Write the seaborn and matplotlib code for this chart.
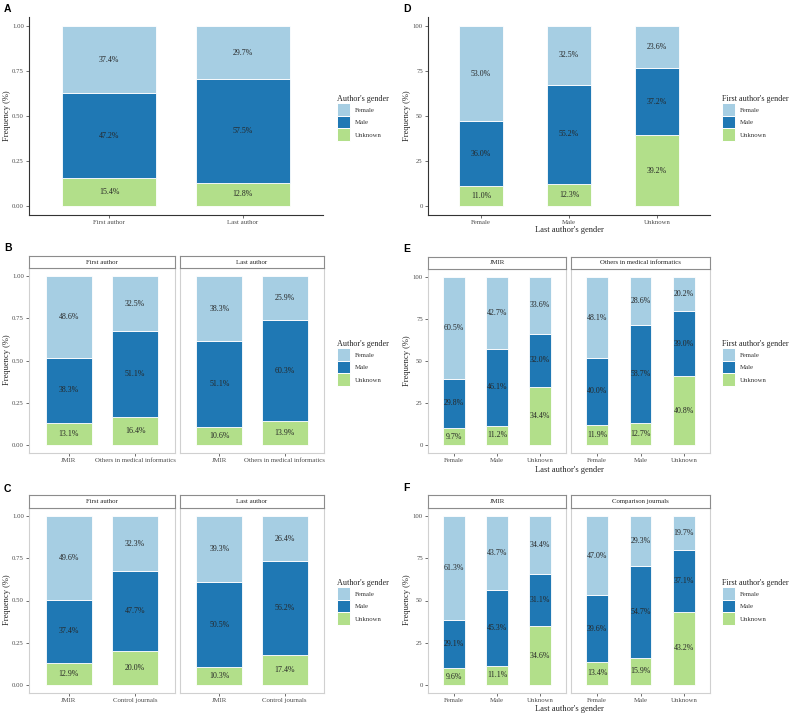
import numpy as np
import pandas as pd
import matplotlib
matplotlib.use("Agg")
import matplotlib.pyplot as plt
import seaborn as sns
from matplotlib.patches import Patch

sns.set_theme(style="white")
plt.rcParams["font.family"] = ["Liberation Serif", "DejaVu Serif"]

# ---------------- data ----------------
genders = ["Female", "Male", "Unknown"]
palette = {"Female": "#A6CEE3", "Male": "#1F78B4", "Unknown": "#B2DF8A"}

# Panel A
a_cats = ["First author", "Last author"]
a_female = [37.4, 29.7]
a_male = [47.2, 57.5]
a_unknown = [15.4, 12.8]

# Panel B
b_facets = ["First author", "Last author"]
b_cats = ["JMIR", "Others in medical informatics"]
b_first_female = [48.6, 32.5]
b_first_male = [38.3, 51.1]
b_first_unknown = [13.1, 16.4]
b_last_female = [38.3, 25.9]
b_last_male = [51.1, 60.3]
b_last_unknown = [10.6, 13.9]

# Panel C
c_facets = ["First author", "Last author"]
c_cats = ["JMIR", "Control journals"]
c_first_female = [49.6, 32.3]
c_first_male = [37.4, 47.7]
c_first_unknown = [12.9, 20.0]
c_last_female = [39.3, 26.4]
c_last_male = [50.5, 56.2]
c_last_unknown = [10.3, 17.4]

# Panel D
d_cats = ["Female", "Male", "Unknown"]
d_female = [53.0, 32.5, 23.6]
d_male = [36.0, 55.2, 37.2]
d_unknown = [11.0, 12.3, 39.2]

# Panel E
e_facets = ["JMIR", "Others in medical informatics"]
e_cats = ["Female", "Male", "Unknown"]
e_jmir_female = [60.5, 42.7, 33.6]
e_jmir_male = [29.8, 46.1, 32.0]
e_jmir_unknown = [9.7, 11.2, 34.4]
e_other_female = [48.1, 28.6, 20.2]
e_other_male = [40.0, 58.7, 39.0]
e_other_unknown = [11.9, 12.7, 40.8]

# Panel F
f_facets = ["JMIR", "Comparison journals"]
f_cats = ["Female", "Male", "Unknown"]
f_jmir_female = [61.3, 43.7, 34.4]
f_jmir_male = [29.1, 45.3, 31.1]
f_jmir_unknown = [9.6, 11.1, 34.6]
f_comp_female = [47.0, 29.3, 19.7]
f_comp_male = [39.6, 54.7, 37.1]
f_comp_unknown = [13.4, 15.9, 43.2]

# ---------------- figure ----------------
W, H = 800, 717
fig = plt.figure(figsize=(W / 100, H / 100), dpi=100)

TICK_FS = 4.9
LAB_FS = 5.7
TITLE_FS = 6.1
TXT = "#262626"
TICKC = "#4D4D4D"


def px_axes(l, t, r, b):
    return fig.add_axes([l / W, 1 - b / H, (r - l) / W, (b - t) / H])


def stacked(ax, cats, fem, male, unk, scale, width):
    fem = np.asarray(fem, float)
    male = np.asarray(male, float)
    unk = np.asarray(unk, float)
    total = fem + male + unk
    df = pd.DataFrame({"cat": cats,
                       "Unknown": unk / total * scale,
                       "Male": male / total * scale,
                       "Female": fem / total * scale})
    bottom = np.zeros(len(cats))
    for g, raw in [("Unknown", unk), ("Male", male), ("Female", fem)]:
        sns.barplot(data=df, x="cat", y=g, order=cats, color=palette[g],
                    width=width, saturation=1, errorbar=None,
                    edgecolor="white", linewidth=0.6, bottom=bottom.copy(), ax=ax)
        ax.bar_label(ax.containers[-1], labels=[f"{v:.1f}%" for v in raw],
                     label_type="center", fontsize=LAB_FS, color=TXT)
        bottom = bottom + df[g].values
    n = len(cats)
    ax.set_xlim(-0.6, n - 0.4)
    ax.set_xlabel("")
    ax.set_ylabel("")
    if scale == 1:
        ax.set_ylim(-0.05, 1.05)
        ax.set_yticks([0, 0.25, 0.5, 0.75, 1.0])
        ax.set_yticklabels(["0.00", "0.25", "0.50", "0.75", "1.00"])
    else:
        ax.set_ylim(-5, 105)
        ax.set_yticks([0, 25, 50, 75, 100])
        ax.set_yticklabels(["0", "25", "50", "75", "100"])
    ax.tick_params(axis="both", which="both", length=2.2, width=0.5,
                   color="#333333", labelsize=TICK_FS, labelcolor=TICKC, pad=1.5,
                   bottom=True, left=True)


def classic(ax):
    for s in ["top", "right"]:
        ax.spines[s].set_visible(False)
    for s in ["left", "bottom"]:
        ax.spines[s].set_color("#333333")
        ax.spines[s].set_linewidth(0.8)


def boxed(ax):
    for s in ax.spines.values():
        s.set_visible(True)
        s.set_color("#D0D0D0")
        s.set_linewidth(0.8)


def strip(l, t, r, b, label):
    sa = px_axes(l, t, r, b)
    sa.set_facecolor("white")
    sa.set_xticks([])
    sa.set_yticks([])
    for s in sa.spines.values():
        s.set_visible(True)
        s.set_color("#8C8C8C")
        s.set_linewidth(0.8)
    sa.text(0.5, 0.5, label, ha="center", va="center", fontsize=TICK_FS,
            color=TXT, transform=sa.transAxes)


def legend(x_px, yc_px, title):
    handles = [Patch(facecolor=palette[g], edgecolor="white", linewidth=0.7)
               for g in genders]
    leg = fig.legend(handles, genders, title=title, loc="center left",
                     bbox_to_anchor=(x_px / W, 1 - yc_px / H), frameon=False,
                     fontsize=TICK_FS, title_fontsize=5.9, handlelength=1.85,
                     handleheight=2.45, handletextpad=0.75, labelspacing=0.0,
                     borderpad=0, borderaxespad=0, alignment="left")
    for t in leg.get_texts():
        t.set_color("#333333")
    leg.get_title().set_color(TXT)


def panel_letter(x, y, s):
    fig.text(x / W, 1 - y / H, s, ha="left", va="top", fontsize=7.5,
             fontweight="bold", family="Liberation Sans", color="black")


def ylab(x, yc):
    fig.text(x / W, 1 - yc / H, "Frequency (%)", rotation=90, ha="center",
             va="center", fontsize=TITLE_FS, color=TXT)


def xlab(xc, y):
    fig.text(xc / W, 1 - y / H, "Last author's gender", ha="center",
             va="center", fontsize=TITLE_FS, color=TXT)


# ---------------- Panel A ----------------
axA = px_axes(29, 17, 323, 215)
stacked(axA, a_cats, a_female, a_male, a_unknown, 1, 0.7)
classic(axA)
legend(337, 118, "Author's gender")
panel_letter(4, 4, "A")
ylab(7, 116)

# ---------------- Panel D ----------------
axD = px_axes(428, 17, 710, 215)
stacked(axD, d_cats, d_female, d_male, d_unknown, 100, 0.5)
classic(axD)
legend(722, 118, "First author's gender")
panel_letter(403, 4, "D")
ylab(407, 116)
xlab(569, 230)


# ---------------- facet panels ----------------
def facet_pair(top_strip, bot_strip, bottom, xs, names, data, cats, scale, width):
    axes = []
    for (l, r), name, (fe, ma, un) in zip(xs, names, data):
        ax = px_axes(l, bot_strip, r, bottom)
        stacked(ax, cats, fe, ma, un, scale, width)
        boxed(ax)
        strip(l, top_strip, r, bot_strip, name)
        axes.append(ax)
    axes[1].tick_params(axis="y", left=False, labelleft=False)
    return axes


facet_pair(256, 268, 453, [(29, 175), (180, 324)], b_facets,
           [(b_first_female, b_first_male, b_first_unknown),
            (b_last_female, b_last_male, b_last_unknown)], b_cats, 1, 0.7)
legend(337, 363, "Author's gender")
panel_letter(4, 243, "B")
ylab(7, 360)

facet_pair(495, 508, 693, [(29, 175), (180, 324)], c_facets,
           [(c_first_female, c_first_male, c_first_unknown),
            (c_last_female, c_last_male, c_last_unknown)], c_cats, 1, 0.7)
legend(337, 602, "Author's gender")
panel_letter(4, 484, "C")
ylab(7, 600)

facet_pair(257, 269, 453, [(428, 566), (571, 710)], e_facets,
           [(e_jmir_female, e_jmir_male, e_jmir_unknown),
            (e_other_female, e_other_male, e_other_unknown)], e_cats, 100, 0.5)
legend(722, 363, "First author's gender")
panel_letter(403, 244, "E")
ylab(407, 361)
xlab(569, 470)

facet_pair(495, 508, 693, [(428, 566), (571, 710)], f_facets,
           [(f_jmir_female, f_jmir_male, f_jmir_unknown),
            (f_comp_female, f_comp_male, f_comp_unknown)], f_cats, 100, 0.5)
legend(722, 602, "First author's gender")
panel_letter(403, 483, "F")
ylab(407, 600)
xlab(569, 709)

fig.savefig("out.png", dpi=100, facecolor="white")
